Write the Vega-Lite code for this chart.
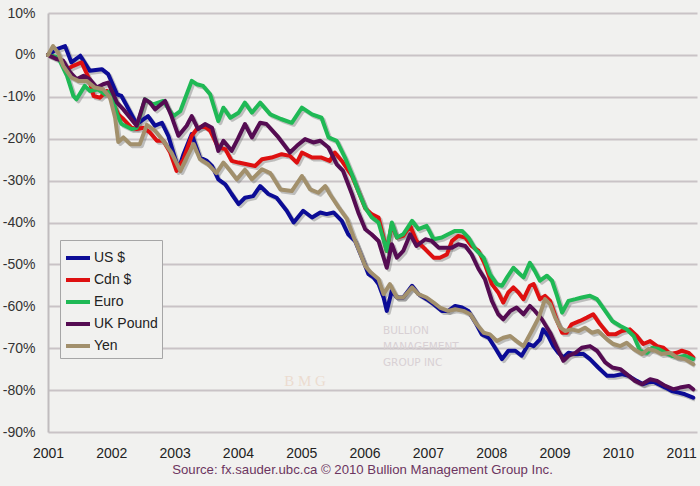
{
  "$schema": "https://vega.github.io/schema/vega-lite/v6.json",
  "width": 649,
  "height": 419,
  "autosize": {"type": "none"},
  "padding": {"left": 48, "top": 13, "right": 3, "bottom": 54},
  "background": "#f1f1ef",
  "config": {"view": {"stroke": null}, "font": "Liberation Sans"},
  "datasets": {
    "fx": [
      {"s":"US $","t":2001.0,"v":0},{"s":"US $","t":2001.14,"v":1.4},{"s":"US $","t":2001.27,"v":2.1},{"s":"US $","t":2001.37,"v":-1.8},{"s":"US $","t":2001.51,"v":-0.2},{"s":"US $","t":2001.66,"v":-3.8},{"s":"US $","t":2001.85,"v":-3.4},{"s":"US $","t":2001.95,"v":-4.6},{"s":"US $","t":2002.09,"v":-9.4},{"s":"US $","t":2002.16,"v":-9.8},{"s":"US $","t":2002.4,"v":-16.5},{"s":"US $","t":2002.58,"v":-14.6},{"s":"US $","t":2002.69,"v":-16.9},{"s":"US $","t":2002.8,"v":-16.2},{"s":"US $","t":2002.9,"v":-19.3},{"s":"US $","t":2003.06,"v":-27.3},{"s":"US $","t":2003.14,"v":-23.7},{"s":"US $","t":2003.27,"v":-18.9},{"s":"US $","t":2003.4,"v":-24.5},{"s":"US $","t":2003.51,"v":-25.3},{"s":"US $","t":2003.59,"v":-26.5},{"s":"US $","t":2003.69,"v":-29.7},{"s":"US $","t":2003.8,"v":-30.9},{"s":"US $","t":2003.9,"v":-33.2},{"s":"US $","t":2004.01,"v":-35.6},{"s":"US $","t":2004.11,"v":-34.1},{"s":"US $","t":2004.24,"v":-33.7},{"s":"US $","t":2004.35,"v":-31.3},{"s":"US $","t":2004.48,"v":-33.2},{"s":"US $","t":2004.61,"v":-34.1},{"s":"US $","t":2004.77,"v":-37.2},{"s":"US $","t":2004.88,"v":-40.0},{"s":"US $","t":2005.03,"v":-37.2},{"s":"US $","t":2005.17,"v":-38.8},{"s":"US $","t":2005.3,"v":-37.6},{"s":"US $","t":2005.4,"v":-38.0},{"s":"US $","t":2005.51,"v":-37.6},{"s":"US $","t":2005.64,"v":-39.6},{"s":"US $","t":2005.74,"v":-42.8},{"s":"US $","t":2005.85,"v":-44.4},{"s":"US $","t":2005.98,"v":-49.2},{"s":"US $","t":2006.06,"v":-52.3},{"s":"US $","t":2006.14,"v":-53.1},{"s":"US $","t":2006.22,"v":-54.7},{"s":"US $","t":2006.3,"v":-57.9},{"s":"US $","t":2006.35,"v":-61.1},{"s":"US $","t":2006.43,"v":-56.3},{"s":"US $","t":2006.51,"v":-57.9},{"s":"US $","t":2006.61,"v":-57.9},{"s":"US $","t":2006.75,"v":-55.1},{"s":"US $","t":2006.85,"v":-57.1},{"s":"US $","t":2006.98,"v":-58.3},{"s":"US $","t":2007.09,"v":-59.5},{"s":"US $","t":2007.22,"v":-61.1},{"s":"US $","t":2007.32,"v":-61.1},{"s":"US $","t":2007.43,"v":-59.9},{"s":"US $","t":2007.54,"v":-60.3},{"s":"US $","t":2007.64,"v":-61.1},{"s":"US $","t":2007.75,"v":-63.9},{"s":"US $","t":2007.85,"v":-66.7},{"s":"US $","t":2007.96,"v":-67.5},{"s":"US $","t":2008.06,"v":-69.9},{"s":"US $","t":2008.17,"v":-72.6},{"s":"US $","t":2008.27,"v":-70.6},{"s":"US $","t":2008.38,"v":-70.6},{"s":"US $","t":2008.48,"v":-71.8},{"s":"US $","t":2008.59,"v":-69.0},{"s":"US $","t":2008.67,"v":-69.5},{"s":"US $","t":2008.77,"v":-67.9},{"s":"US $","t":2008.82,"v":-65.5},{"s":"US $","t":2008.9,"v":-67.1},{"s":"US $","t":2008.98,"v":-69.5},{"s":"US $","t":2009.06,"v":-71.1},{"s":"US $","t":2009.14,"v":-72.2},{"s":"US $","t":2009.22,"v":-71.1},{"s":"US $","t":2009.33,"v":-71.4},{"s":"US $","t":2009.46,"v":-71.4},{"s":"US $","t":2009.56,"v":-72.6},{"s":"US $","t":2009.69,"v":-74.6},{"s":"US $","t":2009.83,"v":-76.6},{"s":"US $","t":2009.93,"v":-76.6},{"s":"US $","t":2010.06,"v":-76.2},{"s":"US $","t":2010.17,"v":-76.6},{"s":"US $","t":2010.3,"v":-77.8},{"s":"US $","t":2010.4,"v":-78.6},{"s":"US $","t":2010.54,"v":-77.8},{"s":"US $","t":2010.64,"v":-78.6},{"s":"US $","t":2010.75,"v":-79.4},{"s":"US $","t":2010.85,"v":-80.2},{"s":"US $","t":2010.96,"v":-80.6},{"s":"US $","t":2011.06,"v":-81.0},{"s":"US $","t":2011.19,"v":-81.8},

      {"s":"Cdn $","t":2001.0,"v":0},{"s":"Cdn $","t":2001.19,"v":-1.0},{"s":"Cdn $","t":2001.3,"v":-3.4},{"s":"Cdn $","t":2001.4,"v":-2.6},{"s":"Cdn $","t":2001.53,"v":-1.8},{"s":"Cdn $","t":2001.64,"v":-5.4},{"s":"Cdn $","t":2001.72,"v":-9.8},{"s":"Cdn $","t":2001.82,"v":-10.2},{"s":"Cdn $","t":2001.93,"v":-8.6},{"s":"Cdn $","t":2002.01,"v":-11.0},{"s":"Cdn $","t":2002.11,"v":-14.2},{"s":"Cdn $","t":2002.19,"v":-15.3},{"s":"Cdn $","t":2002.32,"v":-17.4},{"s":"Cdn $","t":2002.4,"v":-17.7},{"s":"Cdn $","t":2002.51,"v":-17.4},{"s":"Cdn $","t":2002.61,"v":-18.5},{"s":"Cdn $","t":2002.72,"v":-20.5},{"s":"Cdn $","t":2002.82,"v":-20.5},{"s":"Cdn $","t":2002.93,"v":-23.3},{"s":"Cdn $","t":2003.03,"v":-27.7},{"s":"Cdn $","t":2003.14,"v":-24.9},{"s":"Cdn $","t":2003.27,"v":-19.3},{"s":"Cdn $","t":2003.35,"v":-17.7},{"s":"Cdn $","t":2003.45,"v":-16.9},{"s":"Cdn $","t":2003.56,"v":-18.1},{"s":"Cdn $","t":2003.69,"v":-22.1},{"s":"Cdn $","t":2003.8,"v":-22.5},{"s":"Cdn $","t":2003.9,"v":-25.3},{"s":"Cdn $","t":2004.01,"v":-25.7},{"s":"Cdn $","t":2004.14,"v":-26.1},{"s":"Cdn $","t":2004.27,"v":-26.5},{"s":"Cdn $","t":2004.38,"v":-24.9},{"s":"Cdn $","t":2004.53,"v":-24.5},{"s":"Cdn $","t":2004.69,"v":-23.7},{"s":"Cdn $","t":2004.82,"v":-24.1},{"s":"Cdn $","t":2004.93,"v":-25.7},{"s":"Cdn $","t":2005.01,"v":-23.3},{"s":"Cdn $","t":2005.17,"v":-24.5},{"s":"Cdn $","t":2005.32,"v":-24.5},{"s":"Cdn $","t":2005.45,"v":-25.3},{"s":"Cdn $","t":2005.53,"v":-23.3},{"s":"Cdn $","t":2005.64,"v":-25.3},{"s":"Cdn $","t":2005.8,"v":-28.9},{"s":"Cdn $","t":2005.9,"v":-32.5},{"s":"Cdn $","t":2006.01,"v":-36.6},{"s":"Cdn $","t":2006.11,"v":-38.0},{"s":"Cdn $","t":2006.22,"v":-38.8},{"s":"Cdn $","t":2006.35,"v":-46.8},{"s":"Cdn $","t":2006.43,"v":-40.4},{"s":"Cdn $","t":2006.51,"v":-43.6},{"s":"Cdn $","t":2006.61,"v":-43.2},{"s":"Cdn $","t":2006.72,"v":-40.8},{"s":"Cdn $","t":2006.82,"v":-44.4},{"s":"Cdn $","t":2006.96,"v":-46.4},{"s":"Cdn $","t":2007.09,"v":-48.4},{"s":"Cdn $","t":2007.19,"v":-48.4},{"s":"Cdn $","t":2007.3,"v":-47.6},{"s":"Cdn $","t":2007.38,"v":-44.4},{"s":"Cdn $","t":2007.48,"v":-43.2},{"s":"Cdn $","t":2007.59,"v":-43.6},{"s":"Cdn $","t":2007.69,"v":-45.6},{"s":"Cdn $","t":2007.8,"v":-46.8},{"s":"Cdn $","t":2007.9,"v":-50.0},{"s":"Cdn $","t":2008.01,"v":-54.7},{"s":"Cdn $","t":2008.11,"v":-56.7},{"s":"Cdn $","t":2008.19,"v":-59.1},{"s":"Cdn $","t":2008.27,"v":-56.7},{"s":"Cdn $","t":2008.35,"v":-55.5},{"s":"Cdn $","t":2008.43,"v":-56.7},{"s":"Cdn $","t":2008.51,"v":-58.3},{"s":"Cdn $","t":2008.61,"v":-55.1},{"s":"Cdn $","t":2008.67,"v":-54.7},{"s":"Cdn $","t":2008.77,"v":-58.3},{"s":"Cdn $","t":2008.85,"v":-57.5},{"s":"Cdn $","t":2008.93,"v":-58.7},{"s":"Cdn $","t":2009.04,"v":-63.5},{"s":"Cdn $","t":2009.12,"v":-66.3},{"s":"Cdn $","t":2009.19,"v":-66.3},{"s":"Cdn $","t":2009.27,"v":-64.3},{"s":"Cdn $","t":2009.4,"v":-63.5},{"s":"Cdn $","t":2009.51,"v":-62.7},{"s":"Cdn $","t":2009.61,"v":-61.9},{"s":"Cdn $","t":2009.72,"v":-64.3},{"s":"Cdn $","t":2009.85,"v":-66.7},{"s":"Cdn $","t":2009.96,"v":-66.7},{"s":"Cdn $","t":2010.06,"v":-65.9},{"s":"Cdn $","t":2010.19,"v":-65.5},{"s":"Cdn $","t":2010.3,"v":-67.1},{"s":"Cdn $","t":2010.4,"v":-69.0},{"s":"Cdn $","t":2010.51,"v":-68.3},{"s":"Cdn $","t":2010.62,"v":-69.5},{"s":"Cdn $","t":2010.72,"v":-69.9},{"s":"Cdn $","t":2010.83,"v":-71.4},{"s":"Cdn $","t":2010.93,"v":-71.1},{"s":"Cdn $","t":2011.01,"v":-70.6},{"s":"Cdn $","t":2011.12,"v":-71.1},{"s":"Cdn $","t":2011.19,"v":-72.2},

      {"s":"Euro","t":2001.0,"v":0},{"s":"Euro","t":2001.16,"v":-0.6},{"s":"Euro","t":2001.3,"v":-5.0},{"s":"Euro","t":2001.4,"v":-9.8},{"s":"Euro","t":2001.45,"v":-10.6},{"s":"Euro","t":2001.58,"v":-7.4},{"s":"Euro","t":2001.66,"v":-8.6},{"s":"Euro","t":2001.79,"v":-8.2},{"s":"Euro","t":2001.9,"v":-9.4},{"s":"Euro","t":2001.98,"v":-8.6},{"s":"Euro","t":2002.09,"v":-14.2},{"s":"Euro","t":2002.16,"v":-16.5},{"s":"Euro","t":2002.32,"v":-17.7},{"s":"Euro","t":2002.4,"v":-17.4},{"s":"Euro","t":2002.53,"v":-10.6},{"s":"Euro","t":2002.66,"v":-11.8},{"s":"Euro","t":2002.82,"v":-11.0},{"s":"Euro","t":2002.98,"v":-14.6},{"s":"Euro","t":2003.09,"v":-13.4},{"s":"Euro","t":2003.27,"v":-6.2},{"s":"Euro","t":2003.35,"v":-7.0},{"s":"Euro","t":2003.45,"v":-7.4},{"s":"Euro","t":2003.56,"v":-9.4},{"s":"Euro","t":2003.69,"v":-15.8},{"s":"Euro","t":2003.77,"v":-12.6},{"s":"Euro","t":2003.88,"v":-15.0},{"s":"Euro","t":2004.01,"v":-13.8},{"s":"Euro","t":2004.11,"v":-11.4},{"s":"Euro","t":2004.22,"v":-13.8},{"s":"Euro","t":2004.35,"v":-11.4},{"s":"Euro","t":2004.51,"v":-14.2},{"s":"Euro","t":2004.68,"v":-15.3},{"s":"Euro","t":2004.85,"v":-16.2},{"s":"Euro","t":2005.01,"v":-12.6},{"s":"Euro","t":2005.17,"v":-14.2},{"s":"Euro","t":2005.32,"v":-15.0},{"s":"Euro","t":2005.43,"v":-19.7},{"s":"Euro","t":2005.56,"v":-20.5},{"s":"Euro","t":2005.69,"v":-24.5},{"s":"Euro","t":2005.8,"v":-28.5},{"s":"Euro","t":2005.9,"v":-32.5},{"s":"Euro","t":2006.01,"v":-36.5},{"s":"Euro","t":2006.11,"v":-38.7},{"s":"Euro","t":2006.22,"v":-40.0},{"s":"Euro","t":2006.35,"v":-46.8},{"s":"Euro","t":2006.43,"v":-40.0},{"s":"Euro","t":2006.51,"v":-43.6},{"s":"Euro","t":2006.61,"v":-42.8},{"s":"Euro","t":2006.75,"v":-39.6},{"s":"Euro","t":2006.85,"v":-41.6},{"s":"Euro","t":2006.98,"v":-40.8},{"s":"Euro","t":2007.09,"v":-44.0},{"s":"Euro","t":2007.22,"v":-43.6},{"s":"Euro","t":2007.32,"v":-42.8},{"s":"Euro","t":2007.43,"v":-42.0},{"s":"Euro","t":2007.54,"v":-42.0},{"s":"Euro","t":2007.64,"v":-43.6},{"s":"Euro","t":2007.75,"v":-46.4},{"s":"Euro","t":2007.88,"v":-48.4},{"s":"Euro","t":2007.98,"v":-52.3},{"s":"Euro","t":2008.09,"v":-54.7},{"s":"Euro","t":2008.17,"v":-55.1},{"s":"Euro","t":2008.25,"v":-53.1},{"s":"Euro","t":2008.35,"v":-50.8},{"s":"Euro","t":2008.43,"v":-52.0},{"s":"Euro","t":2008.51,"v":-53.1},{"s":"Euro","t":2008.61,"v":-49.6},{"s":"Euro","t":2008.69,"v":-51.6},{"s":"Euro","t":2008.77,"v":-53.9},{"s":"Euro","t":2008.88,"v":-52.7},{"s":"Euro","t":2008.96,"v":-53.9},{"s":"Euro","t":2009.04,"v":-57.5},{"s":"Euro","t":2009.12,"v":-61.5},{"s":"Euro","t":2009.22,"v":-58.7},{"s":"Euro","t":2009.33,"v":-58.3},{"s":"Euro","t":2009.43,"v":-57.9},{"s":"Euro","t":2009.56,"v":-57.5},{"s":"Euro","t":2009.67,"v":-58.3},{"s":"Euro","t":2009.8,"v":-61.1},{"s":"Euro","t":2009.91,"v":-63.5},{"s":"Euro","t":2010.04,"v":-64.7},{"s":"Euro","t":2010.14,"v":-65.5},{"s":"Euro","t":2010.25,"v":-67.1},{"s":"Euro","t":2010.35,"v":-70.6},{"s":"Euro","t":2010.46,"v":-71.1},{"s":"Euro","t":2010.54,"v":-69.9},{"s":"Euro","t":2010.64,"v":-70.2},{"s":"Euro","t":2010.75,"v":-71.1},{"s":"Euro","t":2010.85,"v":-71.8},{"s":"Euro","t":2010.96,"v":-72.2},{"s":"Euro","t":2011.06,"v":-71.8},{"s":"Euro","t":2011.19,"v":-72.6},

      {"s":"UK Pound","t":2001.0,"v":0},{"s":"UK Pound","t":2001.14,"v":-1.0},{"s":"UK Pound","t":2001.24,"v":-1.4},{"s":"UK Pound","t":2001.35,"v":-4.2},{"s":"UK Pound","t":2001.45,"v":-5.8},{"s":"UK Pound","t":2001.56,"v":-5.0},{"s":"UK Pound","t":2001.66,"v":-5.8},{"s":"UK Pound","t":2001.77,"v":-7.8},{"s":"UK Pound","t":2001.87,"v":-7.0},{"s":"UK Pound","t":2001.95,"v":-6.6},{"s":"UK Pound","t":2002.09,"v":-11.4},{"s":"UK Pound","t":2002.19,"v":-13.0},{"s":"UK Pound","t":2002.4,"v":-16.9},{"s":"UK Pound","t":2002.53,"v":-10.6},{"s":"UK Pound","t":2002.61,"v":-11.4},{"s":"UK Pound","t":2002.69,"v":-13.0},{"s":"UK Pound","t":2002.85,"v":-11.0},{"s":"UK Pound","t":2002.95,"v":-14.6},{"s":"UK Pound","t":2003.06,"v":-19.3},{"s":"UK Pound","t":2003.19,"v":-16.9},{"s":"UK Pound","t":2003.27,"v":-14.6},{"s":"UK Pound","t":2003.37,"v":-17.7},{"s":"UK Pound","t":2003.48,"v":-16.5},{"s":"UK Pound","t":2003.59,"v":-17.4},{"s":"UK Pound","t":2003.69,"v":-22.9},{"s":"UK Pound","t":2003.77,"v":-20.5},{"s":"UK Pound","t":2003.9,"v":-22.9},{"s":"UK Pound","t":2004.0,"v":-20.0},{"s":"UK Pound","t":2004.11,"v":-16.5},{"s":"UK Pound","t":2004.22,"v":-19.7},{"s":"UK Pound","t":2004.35,"v":-16.2},{"s":"UK Pound","t":2004.45,"v":-16.5},{"s":"UK Pound","t":2004.64,"v":-19.7},{"s":"UK Pound","t":2004.82,"v":-23.3},{"s":"UK Pound","t":2004.93,"v":-21.7},{"s":"UK Pound","t":2005.06,"v":-20.1},{"s":"UK Pound","t":2005.19,"v":-20.9},{"s":"UK Pound","t":2005.3,"v":-20.5},{"s":"UK Pound","t":2005.43,"v":-22.1},{"s":"UK Pound","t":2005.56,"v":-26.1},{"s":"UK Pound","t":2005.66,"v":-27.7},{"s":"UK Pound","t":2005.8,"v":-33.2},{"s":"UK Pound","t":2005.9,"v":-37.6},{"s":"UK Pound","t":2006.01,"v":-41.6},{"s":"UK Pound","t":2006.11,"v":-42.8},{"s":"UK Pound","t":2006.22,"v":-44.4},{"s":"UK Pound","t":2006.35,"v":-50.8},{"s":"UK Pound","t":2006.43,"v":-45.2},{"s":"UK Pound","t":2006.51,"v":-48.4},{"s":"UK Pound","t":2006.61,"v":-46.8},{"s":"UK Pound","t":2006.72,"v":-42.8},{"s":"UK Pound","t":2006.82,"v":-45.6},{"s":"UK Pound","t":2006.96,"v":-44.0},{"s":"UK Pound","t":2007.06,"v":-44.4},{"s":"UK Pound","t":2007.17,"v":-46.0},{"s":"UK Pound","t":2007.27,"v":-46.0},{"s":"UK Pound","t":2007.38,"v":-46.0},{"s":"UK Pound","t":2007.48,"v":-45.2},{"s":"UK Pound","t":2007.59,"v":-45.6},{"s":"UK Pound","t":2007.69,"v":-47.6},{"s":"UK Pound","t":2007.8,"v":-51.1},{"s":"UK Pound","t":2007.9,"v":-53.5},{"s":"UK Pound","t":2008.01,"v":-58.7},{"s":"UK Pound","t":2008.11,"v":-61.9},{"s":"UK Pound","t":2008.19,"v":-63.1},{"s":"UK Pound","t":2008.3,"v":-61.1},{"s":"UK Pound","t":2008.4,"v":-60.3},{"s":"UK Pound","t":2008.51,"v":-61.9},{"s":"UK Pound","t":2008.61,"v":-59.9},{"s":"UK Pound","t":2008.69,"v":-61.1},{"s":"UK Pound","t":2008.8,"v":-63.1},{"s":"UK Pound","t":2008.93,"v":-66.3},{"s":"UK Pound","t":2009.04,"v":-69.9},{"s":"UK Pound","t":2009.14,"v":-73.0},{"s":"UK Pound","t":2009.22,"v":-71.8},{"s":"UK Pound","t":2009.33,"v":-71.1},{"s":"UK Pound","t":2009.43,"v":-69.9},{"s":"UK Pound","t":2009.56,"v":-69.5},{"s":"UK Pound","t":2009.67,"v":-70.6},{"s":"UK Pound","t":2009.8,"v":-73.4},{"s":"UK Pound","t":2009.91,"v":-74.6},{"s":"UK Pound","t":2010.04,"v":-75.0},{"s":"UK Pound","t":2010.14,"v":-76.2},{"s":"UK Pound","t":2010.27,"v":-77.8},{"s":"UK Pound","t":2010.38,"v":-78.6},{"s":"UK Pound","t":2010.51,"v":-77.4},{"s":"UK Pound","t":2010.62,"v":-77.8},{"s":"UK Pound","t":2010.75,"v":-79.0},{"s":"UK Pound","t":2010.88,"v":-79.8},{"s":"UK Pound","t":2010.98,"v":-79.4},{"s":"UK Pound","t":2011.12,"v":-79.0},{"s":"UK Pound","t":2011.19,"v":-79.8},

      {"s":"Yen","t":2001.0,"v":0},{"s":"Yen","t":2001.08,"v":2.1},{"s":"Yen","t":2001.16,"v":0.5},{"s":"Yen","t":2001.24,"v":-2.6},{"s":"Yen","t":2001.37,"v":-5.4},{"s":"Yen","t":2001.48,"v":-6.2},{"s":"Yen","t":2001.61,"v":-6.2},{"s":"Yen","t":2001.74,"v":-7.8},{"s":"Yen","t":2001.87,"v":-8.2},{"s":"Yen","t":2001.98,"v":-10.2},{"s":"Yen","t":2002.06,"v":-15.0},{"s":"Yen","t":2002.11,"v":-20.8},{"s":"Yen","t":2002.19,"v":-19.7},{"s":"Yen","t":2002.3,"v":-21.3},{"s":"Yen","t":2002.45,"v":-21.3},{"s":"Yen","t":2002.56,"v":-16.7},{"s":"Yen","t":2002.69,"v":-18.1},{"s":"Yen","t":2002.82,"v":-20.5},{"s":"Yen","t":2002.95,"v":-23.3},{"s":"Yen","t":2003.09,"v":-27.7},{"s":"Yen","t":2003.19,"v":-24.5},{"s":"Yen","t":2003.3,"v":-21.3},{"s":"Yen","t":2003.4,"v":-24.9},{"s":"Yen","t":2003.53,"v":-26.1},{"s":"Yen","t":2003.66,"v":-28.2},{"s":"Yen","t":2003.77,"v":-25.7},{"s":"Yen","t":2003.88,"v":-27.7},{"s":"Yen","t":2003.98,"v":-29.7},{"s":"Yen","t":2004.11,"v":-27.4},{"s":"Yen","t":2004.22,"v":-29.7},{"s":"Yen","t":2004.38,"v":-27.3},{"s":"Yen","t":2004.51,"v":-28.2},{"s":"Yen","t":2004.67,"v":-32.1},{"s":"Yen","t":2004.85,"v":-32.5},{"s":"Yen","t":2005.01,"v":-28.9},{"s":"Yen","t":2005.14,"v":-32.1},{"s":"Yen","t":2005.27,"v":-32.9},{"s":"Yen","t":2005.38,"v":-31.3},{"s":"Yen","t":2005.45,"v":-33.2},{"s":"Yen","t":2005.59,"v":-36.4},{"s":"Yen","t":2005.72,"v":-39.1},{"s":"Yen","t":2005.82,"v":-43.2},{"s":"Yen","t":2005.93,"v":-47.3},{"s":"Yen","t":2006.01,"v":-50.4},{"s":"Yen","t":2006.09,"v":-51.8},{"s":"Yen","t":2006.22,"v":-53.5},{"s":"Yen","t":2006.3,"v":-57.1},{"s":"Yen","t":2006.4,"v":-54.7},{"s":"Yen","t":2006.51,"v":-57.9},{"s":"Yen","t":2006.61,"v":-57.9},{"s":"Yen","t":2006.75,"v":-55.5},{"s":"Yen","t":2006.85,"v":-57.1},{"s":"Yen","t":2006.98,"v":-57.9},{"s":"Yen","t":2007.09,"v":-59.1},{"s":"Yen","t":2007.19,"v":-60.3},{"s":"Yen","t":2007.32,"v":-61.1},{"s":"Yen","t":2007.43,"v":-60.7},{"s":"Yen","t":2007.56,"v":-61.1},{"s":"Yen","t":2007.67,"v":-61.9},{"s":"Yen","t":2007.77,"v":-64.3},{"s":"Yen","t":2007.88,"v":-66.3},{"s":"Yen","t":2007.98,"v":-66.7},{"s":"Yen","t":2008.09,"v":-68.3},{"s":"Yen","t":2008.19,"v":-67.5},{"s":"Yen","t":2008.3,"v":-67.1},{"s":"Yen","t":2008.4,"v":-68.3},{"s":"Yen","t":2008.51,"v":-69.5},{"s":"Yen","t":2008.64,"v":-65.9},{"s":"Yen","t":2008.75,"v":-62.7},{"s":"Yen","t":2008.85,"v":-58.3},{"s":"Yen","t":2008.93,"v":-59.5},{"s":"Yen","t":2009.01,"v":-62.7},{"s":"Yen","t":2009.09,"v":-65.1},{"s":"Yen","t":2009.17,"v":-65.9},{"s":"Yen","t":2009.27,"v":-65.5},{"s":"Yen","t":2009.38,"v":-65.9},{"s":"Yen","t":2009.48,"v":-65.1},{"s":"Yen","t":2009.59,"v":-66.3},{"s":"Yen","t":2009.69,"v":-65.9},{"s":"Yen","t":2009.83,"v":-67.9},{"s":"Yen","t":2009.93,"v":-69.0},{"s":"Yen","t":2010.04,"v":-69.5},{"s":"Yen","t":2010.14,"v":-68.7},{"s":"Yen","t":2010.25,"v":-70.2},{"s":"Yen","t":2010.38,"v":-71.4},{"s":"Yen","t":2010.48,"v":-70.2},{"s":"Yen","t":2010.59,"v":-70.6},{"s":"Yen","t":2010.69,"v":-71.4},{"s":"Yen","t":2010.83,"v":-71.1},{"s":"Yen","t":2010.93,"v":-72.2},{"s":"Yen","t":2011.06,"v":-72.6},{"s":"Yen","t":2011.19,"v":-73.8}
    ],
    "mark": [{"label": "BULLION\nMANAGEMENT\nGROUP INC"}],
    "bmg": [{"label": "B M G"}]
  },
  "layer": [
    {
      "data": {"name": "fx"},
      "mark": {"type": "line", "color": "#707070", "opacity": 0.4, "strokeWidth": 4, "strokeJoin": "round", "xOffset": 2, "yOffset": 2},
      "encoding": {
        "x": {"field": "t", "type": "quantitative", "scale": {"domain": [2001, 2011.25], "nice": false, "zero": false},
          "axis": {"values": [2001,2002,2003,2004,2005,2006,2007,2008,2009,2010,2011], "format": "d", "grid": false, "domain": false, "ticks": false, "labelFontSize": 14, "labelColor": "#222222", "labelPadding": 14, "labelOverlap": false, "labelFlush": false,
            "title": "Source: fx.sauder.ubc.ca \u00a9 2010 Bullion Management Group Inc.", "titleFontSize": 13.2, "titleFontWeight": "normal", "titleColor": "#6c3560", "titlePadding": 3, "titleX": 314}},
        "y": {"field": "v", "type": "quantitative", "scale": {"domain": [-90, 10], "nice": false},
          "axis": {"values": [-90,-80,-70,-60,-50,-40,-30,-20,-10,0,10], "labelExpr": "datum.value + '%'", "grid": true, "gridColor": "#c9c3c6", "gridWidth": 2, "domain": true, "domainColor": "#c0bcbe", "domainWidth": 2, "ticks": false, "tickSize": 0, "labelFontSize": 14, "labelColor": "#333333", "labelPadding": 13, "title": null}},
        "detail": {"field": "s", "type": "nominal"}
      }
    },
    {
      "data": {"name": "fx"},
      "mark": {"type": "line", "strokeWidth": 4, "strokeJoin": "round", "strokeCap": "round"},
      "encoding": {
        "x": {"field": "t", "type": "quantitative"},
        "y": {"field": "v", "type": "quantitative"},
        "color": {"field": "s", "type": "nominal",
          "scale": {"domain": ["US $", "Cdn $", "Euro", "UK Pound", "Yen"], "range": ["#0c0c96", "#de1010", "#1fb955", "#550c52", "#a2906c"]},
          "legend": {"title": null, "orient": "none", "legendX": 12, "legendY": 227, "fillColor": "#f1f1ef", "strokeColor": "#a6a6a6", "padding": 4, "symbolType": "stroke", "symbolSize": 576, "symbolStrokeWidth": 4, "labelFontSize": 14, "labelColor": "#222222", "labelOffset": 2, "rowPadding": 0}}
      }
    },
    {
      "data": {"name": "mark"},
      "mark": {"type": "text", "align": "left", "baseline": "middle", "font": "DejaVu Sans", "fontSize": 10.5, "color": "#d8d0d4", "lineBreak": "\n", "lineHeight": 16},
      "encoding": {
        "x": {"datum": 2006.29, "type": "quantitative"},
        "y": {"datum": -65.9, "type": "quantitative"},
        "text": {"field": "label"}
      }
    },
    {
      "data": {"name": "bmg"},
      "mark": {"type": "text", "align": "center", "baseline": "middle", "font": "Liberation Serif", "fontSize": 15, "color": "#ecdccf"},
      "encoding": {
        "x": {"datum": 2005.06, "type": "quantitative"},
        "y": {"datum": -77.8, "type": "quantitative"},
        "text": {"field": "label"}
      }
    }
  ]
}
